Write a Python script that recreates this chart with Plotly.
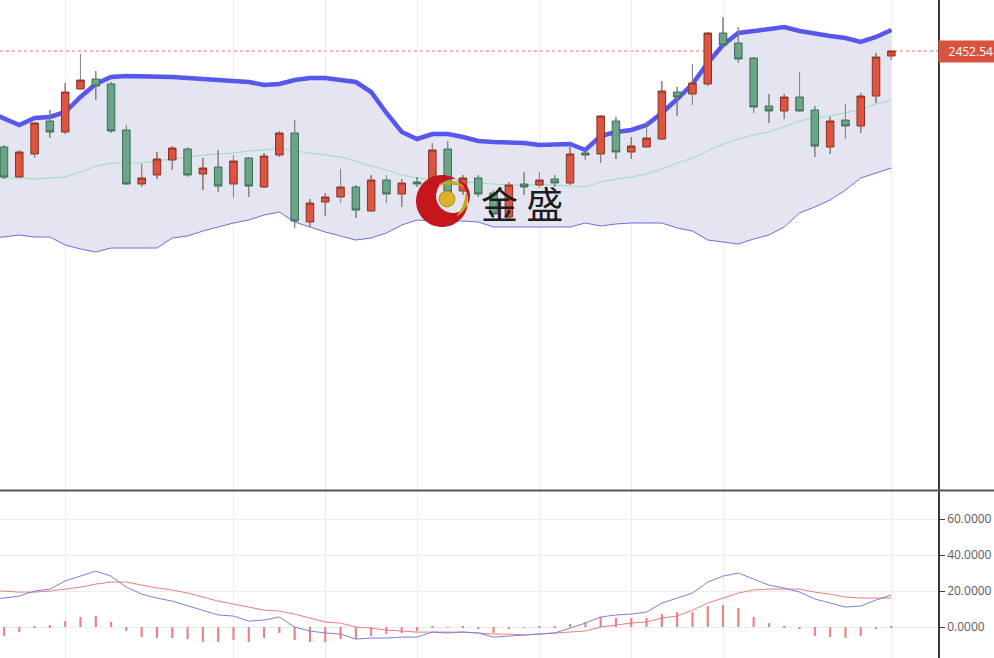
import numpy as np
import plotly.graph_objects as go

# ---------------- data ----------------
idx = list(range(0, 59))          # candle positions
idx_ind = list(range(-1, 59))     # indicator positions (one bar earlier, clipped at left)

open_ = [2404.54, 2389.54, 2401.04, 2417.54, 2412.04, 2433.54, 2438.54, 2436.04, 2413.04, 2386.04,
         2390.54, 2398.04, 2403.54, 2391.04, 2394.54, 2386.04, 2399.04, 2384.54, 2400.54, 2411.54,
         2367.04, 2377.04, 2379.54, 2384.54, 2372.54, 2388.04, 2381.04, 2387.04, 2381.54, 2403.54,
         2382.54, 2389.04, 2381.54, 2369.54, 2386.04, 2385.54, 2388.54, 2386.54, 2401.54, 2401.04,
         2417.54, 2402.04, 2404.54, 2408.54, 2432.04, 2431.04, 2436.04, 2461.54, 2456.54, 2449.04,
         2425.04, 2422.54, 2429.54, 2423.04, 2404.54, 2418.04, 2415.04, 2430.04, 2450.04]
high = [2405.54, 2403.04, 2417.04, 2423.04, 2436.54, 2451.04, 2442.54, 2437.04, 2415.54, 2396.04,
        2402.04, 2405.04, 2404.54, 2399.04, 2403.04, 2400.54, 2399.54, 2401.54, 2412.54, 2418.04,
        2378.54, 2381.54, 2393.54, 2385.54, 2390.54, 2390.54, 2388.54, 2389.54, 2406.54, 2407.54,
        2390.54, 2390.54, 2383.04, 2387.04, 2392.04, 2392.04, 2390.54, 2404.54, 2403.04, 2420.54,
        2419.54, 2409.54, 2417.54, 2437.54, 2434.54, 2446.04, 2462.04, 2469.54, 2464.54, 2449.54,
        2431.04, 2431.04, 2442.04, 2425.04, 2419.54, 2426.04, 2431.54, 2451.54, 2453.04]
low = [2388.54, 2389.04, 2399.04, 2409.04, 2411.04, 2433.04, 2428.04, 2411.54, 2385.54, 2384.54,
       2388.54, 2393.04, 2389.54, 2383.04, 2382.04, 2379.04, 2379.54, 2384.04, 2399.54, 2364.04,
       2364.54, 2370.04, 2376.54, 2369.04, 2372.04, 2376.54, 2374.54, 2384.54, 2380.04, 2380.04,
       2380.54, 2379.54, 2368.04, 2368.54, 2380.54, 2384.04, 2384.54, 2385.54, 2398.04, 2396.54,
       2398.54, 2398.54, 2404.54, 2408.04, 2420.04, 2425.54, 2435.04, 2454.54, 2446.54, 2421.54,
       2416.54, 2418.54, 2422.04, 2399.54, 2401.04, 2408.54, 2411.54, 2426.54, 2448.04]
close = [2389.54, 2402.04, 2416.54, 2412.04, 2432.04, 2438.04, 2435.04, 2412.54, 2386.04, 2389.04,
         2398.54, 2404.04, 2390.54, 2394.04, 2385.04, 2397.54, 2385.04, 2400.04, 2411.54, 2367.54,
         2376.54, 2379.54, 2384.54, 2373.04, 2388.04, 2381.04, 2386.54, 2386.04, 2403.04, 2382.04,
         2389.04, 2381.04, 2371.04, 2385.54, 2384.54, 2388.04, 2386.54, 2401.04, 2400.54, 2420.04,
         2402.04, 2405.04, 2409.04, 2432.54, 2429.54, 2436.54, 2461.54, 2455.54, 2448.54, 2424.54,
         2422.54, 2429.54, 2422.54, 2405.04, 2417.54, 2415.04, 2430.04, 2449.54, 2452.54]

boll_upper = [2422.04, 2418.54, 2415.54, 2419.04, 2419.54, 2422.04, 2429.54, 2436.04, 2439.54, 2440.04,
              2440.04, 2440.04, 2439.54, 2439.04, 2438.54, 2437.54, 2437.04, 2437.04, 2435.54, 2436.04,
              2438.04, 2439.04, 2439.04, 2438.04, 2437.04, 2432.04, 2421.54, 2412.04, 2408.54, 2411.04,
              2411.04, 2409.54, 2407.54, 2407.04, 2407.04, 2406.54, 2405.54, 2406.04, 2406.04, 2403.04,
              2410.04, 2412.04, 2413.04, 2415.54, 2421.54, 2428.54, 2436.04, 2446.54, 2455.54, 2461.54,
              2462.54, 2463.54, 2464.54, 2462.54, 2461.04, 2460.04, 2459.04, 2457.04, 2459.54, 2463.04]
boll_mid = [2389.04, 2389.04, 2389.04, 2388.54, 2389.04, 2389.54, 2392.04, 2395.04, 2396.54, 2396.54,
            2396.54, 2397.54, 2398.54, 2399.54, 2400.54, 2401.04, 2401.54, 2402.54, 2403.04, 2404.04,
            2402.54, 2401.54, 2400.54, 2399.54, 2397.54, 2395.04, 2393.04, 2390.54, 2389.04, 2388.04,
            2387.54, 2387.04, 2386.54, 2386.04, 2385.54, 2385.54, 2385.54, 2385.54, 2385.04, 2384.54,
            2387.04, 2388.54, 2389.54, 2391.04, 2393.54, 2396.54, 2399.04, 2402.54, 2406.04, 2408.54,
            2410.54, 2412.04, 2414.54, 2417.54, 2419.04, 2420.04, 2421.54, 2423.54, 2426.04, 2428.04]
boll_lower = [2359.04, 2359.54, 2360.54, 2359.54, 2359.54, 2355.54, 2353.54, 2352.04, 2354.04, 2354.04,
              2354.04, 2354.04, 2359.04, 2360.04, 2362.54, 2364.54, 2366.54, 2368.04, 2370.54, 2372.04,
              2367.04, 2364.54, 2362.04, 2360.04, 2358.04, 2359.04, 2361.54, 2365.54, 2368.04, 2367.54,
              2367.54, 2367.54, 2367.04, 2364.54, 2364.54, 2364.54, 2364.54, 2364.54, 2364.54, 2366.54,
              2365.04, 2366.04, 2366.54, 2366.54, 2366.54, 2364.04, 2362.54, 2358.04, 2357.04, 2356.04,
              2358.54, 2360.54, 2364.54, 2371.54, 2374.54, 2378.04, 2383.04, 2389.04, 2391.54, 2394.04]

macd_dif = [15.5, 16.1, 17.2, 20.0, 21.1, 25.6, 28.3, 31.1, 28.3, 22.2,
            18.3, 16.1, 14.4, 11.7, 9.4, 6.7, 6.1, 3.3, 3.9, 5.6,
            0.0, -2.2, -3.3, -3.9, -6.7, -6.1, -6.1, -5.6, -5.6, -2.8,
            -3.3, -2.8, -3.3, -5.6, -5.0, -4.4, -3.9, -3.3, -0.6, 2.2,
            5.6, 6.7, 7.2, 8.3, 13.3, 16.1, 18.9, 25.0, 28.3, 30.0,
            26.7, 23.3, 21.7, 19.4, 15.6, 13.3, 11.1, 11.7, 15.0, 17.8]
macd_dea = [20.0, 20.0, 19.4, 19.4, 20.0, 21.1, 22.2, 23.9, 25.0, 25.0,
            23.3, 21.7, 20.6, 18.9, 16.7, 14.4, 12.8, 11.1, 9.4, 8.9,
            7.2, 5.0, 2.8, 2.2, 0.0, -0.6, -1.7, -2.2, -2.8, -2.8,
            -2.8, -2.8, -3.3, -3.9, -3.9, -4.4, -3.9, -3.3, -2.8, -2.2,
            0.0, 1.1, 2.2, 2.8, 5.0, 6.1, 9.4, 13.3, 16.1, 18.9,
            20.6, 21.1, 21.1, 21.1, 19.4, 18.3, 16.7, 16.1, 16.1, 16.1]
macd_hist = [-5.0, -2.8, 0.6, 1.1, 3.3, 5.6, 6.1, 2.8, -2.2, -5.6,
             -6.1, -6.1, -6.7, -8.3, -8.3, -7.2, -8.3, -6.1, -3.3, -7.2,
             -8.3, -8.3, -6.7, -6.7, -5.0, -3.9, -3.3, -2.2, 0.3, -0.4,
             0.4, -1.1, -3.3, -1.1, -0.4, 0.3, 0.4, 1.7, 2.8, 5.6,
             5.0, 5.0, 5.0, 7.2, 8.3, 8.3, 11.7, 12.2, 10.6, 5.6,
             2.2, 0.6, -1.1, -5.0, -5.6, -6.1, -5.0, -1.1, 0.6]

grid_idx = [4, 15, 21, 27, 35, 41, 47, 58]
macd_ticks = [0, 20, 40, 60]
last_price = close[-1]
logo_text = "金 盛"

# ---------------- geometry ----------------
W, H = 994, 658
PLOT_R = 938  # right edge of plotting area in px
PRICE_RANGE = [2233.04, 2478.04]


def px(x):
    return x / PLOT_R


def py(y):
    return 1 - y / H


GRID = "#e8eef4"
AXIS = "#3a3a3a"

fig = go.Figure()

# Bollinger band fill + lines (base subplot)
fig.add_trace(go.Scatter(x=idx_ind, y=boll_upper, mode="lines", line=dict(color="rgba(0,0,0,0)", width=0),
                         hoverinfo="skip", xaxis="x", yaxis="y"))
fig.add_trace(go.Scatter(x=idx_ind, y=boll_lower, mode="lines", line=dict(color="rgba(0,0,0,0)", width=0),
                         fill="tonexty", fillcolor="#e5e5f2", hoverinfo="skip", xaxis="x", yaxis="y"))
fig.add_trace(go.Scatter(x=idx_ind, y=boll_lower, mode="lines", line=dict(color="#6c6ce2", width=1),
                         hoverinfo="skip", xaxis="x", yaxis="y"))
fig.add_trace(go.Scatter(x=idx_ind, y=boll_mid, mode="lines", line=dict(color="#96dcc3", width=1),
                         hoverinfo="skip", xaxis="x", yaxis="y"))
fig.add_trace(go.Scatter(x=idx_ind, y=boll_upper, mode="lines", line=dict(color="#5757ee", width=4.5),
                         hoverinfo="skip", xaxis="x", yaxis="y"))

# candles on an overlaying axis so they sit above the band layer
fig.add_trace(go.Candlestick(
    x=idx, open=open_, high=high, low=low, close=close,
    increasing=dict(fillcolor="#db5540", line=dict(color="#8a3022", width=1)),
    decreasing=dict(fillcolor="#69a586", line=dict(color="#3d6b54", width=1)),
    whiskerwidth=0, hoverinfo="skip", xaxis="x", yaxis="y3"))

# grey wicks over the candle wicks
wx, wy = [], []
for i, o, h, l, c in zip(idx, open_, high, low, close):
    top, bot = max(o, c), min(o, c)
    wx += [i, i, None, i, i, None]
    wy += [h, top, None, bot, l, None]
fig.add_trace(go.Scatter(x=wx, y=wy, mode="lines", line=dict(color="#8c8c8c", width=1),
                         hoverinfo="skip", xaxis="x", yaxis="y3", connectgaps=False))

# MACD
fig.add_trace(go.Bar(x=idx, y=macd_hist, width=0.14, marker=dict(color="#ef8080", line=dict(width=0)),
                     hoverinfo="skip", xaxis="x2", yaxis="y2"))
fig.add_trace(go.Scatter(x=idx_ind, y=macd_dea, mode="lines", line=dict(color="#ec7c7c", width=1),
                         hoverinfo="skip", xaxis="x2", yaxis="y2"))
fig.add_trace(go.Scatter(x=idx_ind, y=macd_dif, mode="lines", line=dict(color="#7d7de6", width=1),
                         hoverinfo="skip", xaxis="x2", yaxis="y2"))

x_rng = [-0.26, 61.05]
main_dom = [(H - 490) / H, 1]
macd_dom = [0, (H - 491) / H]

common_x = dict(range=x_rng, tickmode="array", tickvals=grid_idx, showticklabels=False,
                showgrid=True, gridcolor=GRID, gridwidth=1, zeroline=False, showline=False,
                ticks="", fixedrange=True, automargin=False)

fig.update_layout(
    width=W, height=H, template="none",
    margin=dict(l=0, r=W - PLOT_R, t=0, b=0, pad=0),
    paper_bgcolor="white", plot_bgcolor="white",
    showlegend=False, barmode="overlay",
    font=dict(family="Open Sans", size=12, color="#555"),
    xaxis=dict(domain=[0, 1], anchor="y", rangeslider=dict(visible=False), **common_x),
    xaxis2=dict(domain=[0, 1], anchor="y2", matches="x", **common_x),
    yaxis=dict(domain=main_dom, range=PRICE_RANGE, side="right", showgrid=False,
               showticklabels=False, ticks="", showline=True, linecolor=AXIS, linewidth=1.5,
               zeroline=False, fixedrange=True, automargin=False),
    yaxis3=dict(domain=main_dom, range=PRICE_RANGE, overlaying="y", anchor="x", side="right",
                visible=False, showgrid=False, zeroline=False, fixedrange=True),
    yaxis2=dict(domain=macd_dom, range=[-17.2, 75.6], side="right", tickmode="array",
                tickvals=macd_ticks, tickformat=".4f", ticks="outside", ticklen=5, tickcolor=AXIS,
                showline=True, linecolor=AXIS, linewidth=1.5, showgrid=True, gridcolor=GRID,
                zeroline=False, tickfont=dict(family="Open Sans", size=12, color="#5a5a5a"),
                ticklabelstandoff=0, fixedrange=True, automargin=False),
)

shapes = []
# separator between panes
shapes.append(dict(type="line", xref="paper", yref="paper", x0=0, x1=W / PLOT_R, y0=py(490.5), y1=py(490.5),
                   line=dict(color="#555555", width=2), layer="above"))
# current price dotted line
shapes.append(dict(type="line", xref="paper", yref="y", x0=0, x1=1, y0=last_price, y1=last_price,
                   line=dict(color="#e8735f", width=1, dash="dot"), layer="below"))

# logo: red crescent
th = np.linspace(0, 2 * np.pi, 64)
cx, cy, r = 442, 201, 26
icx, icy, ir = 453, 196, 17
outer = " L ".join(f"{px(cx + r * np.cos(t)):.5f},{py(cy + r * np.sin(t)):.5f}" for t in th)
inner = " L ".join(f"{px(icx + ir * np.cos(t)):.5f},{py(icy + ir * np.sin(t)):.5f}" for t in th)
shapes.append(dict(type="path", xref="paper", yref="paper", path=f"M {outer} Z M {inner} Z",
                   fillcolor="#c4161c", fillrule="evenodd", line=dict(width=0), layer="above"))
# gold swooshes
sw1 = (f"M {px(439):.5f},{py(185):.5f} Q {px(452):.5f},{py(177):.5f} {px(464):.5f},{py(187):.5f} "
       f"Q {px(452):.5f},{py(182):.5f} {px(439):.5f},{py(185):.5f} Z")
sw2 = (f"M {px(457):.5f},{py(216):.5f} Q {px(471):.5f},{py(207):.5f} {px(466):.5f},{py(193):.5f} "
       f"Q {px(465):.5f},{py(207):.5f} {px(457):.5f},{py(216):.5f} Z")
for sw in (sw1, sw2):
    shapes.append(dict(type="path", xref="paper", yref="paper", path=sw, fillcolor="#c9a227",
                       line=dict(color="#c9a227", width=1), layer="above"))
# gold ball
shapes.append(dict(type="circle", xref="paper", yref="paper", x0=px(439), x1=px(455), y0=py(207), y1=py(191),
                   fillcolor="#d8b22e", line=dict(color="#b8901c", width=1), layer="above"))
fig.update_layout(shapes=shapes)

annotations = [
    dict(xref="paper", yref="y", x=1, y=last_price, xanchor="left", yanchor="middle",
         text=f"{last_price:.2f}", showarrow=False, bgcolor="#d9533f", borderpad=2, width=52, align="right",
         font=dict(family="Open Sans", size=12, color="white")),
    dict(xref="paper", yref="paper", x=px(522), y=py(203), xanchor="center", yanchor="middle",
         text=logo_text, showarrow=False,
         font=dict(family="Noto Sans CJK SC", size=37, color="#1c1c1c")),
]
fig.update_layout(annotations=annotations)

fig.write_html("out.html", config={"displayModeBar": False},
               post_script="document.body.style.margin='0px';")
